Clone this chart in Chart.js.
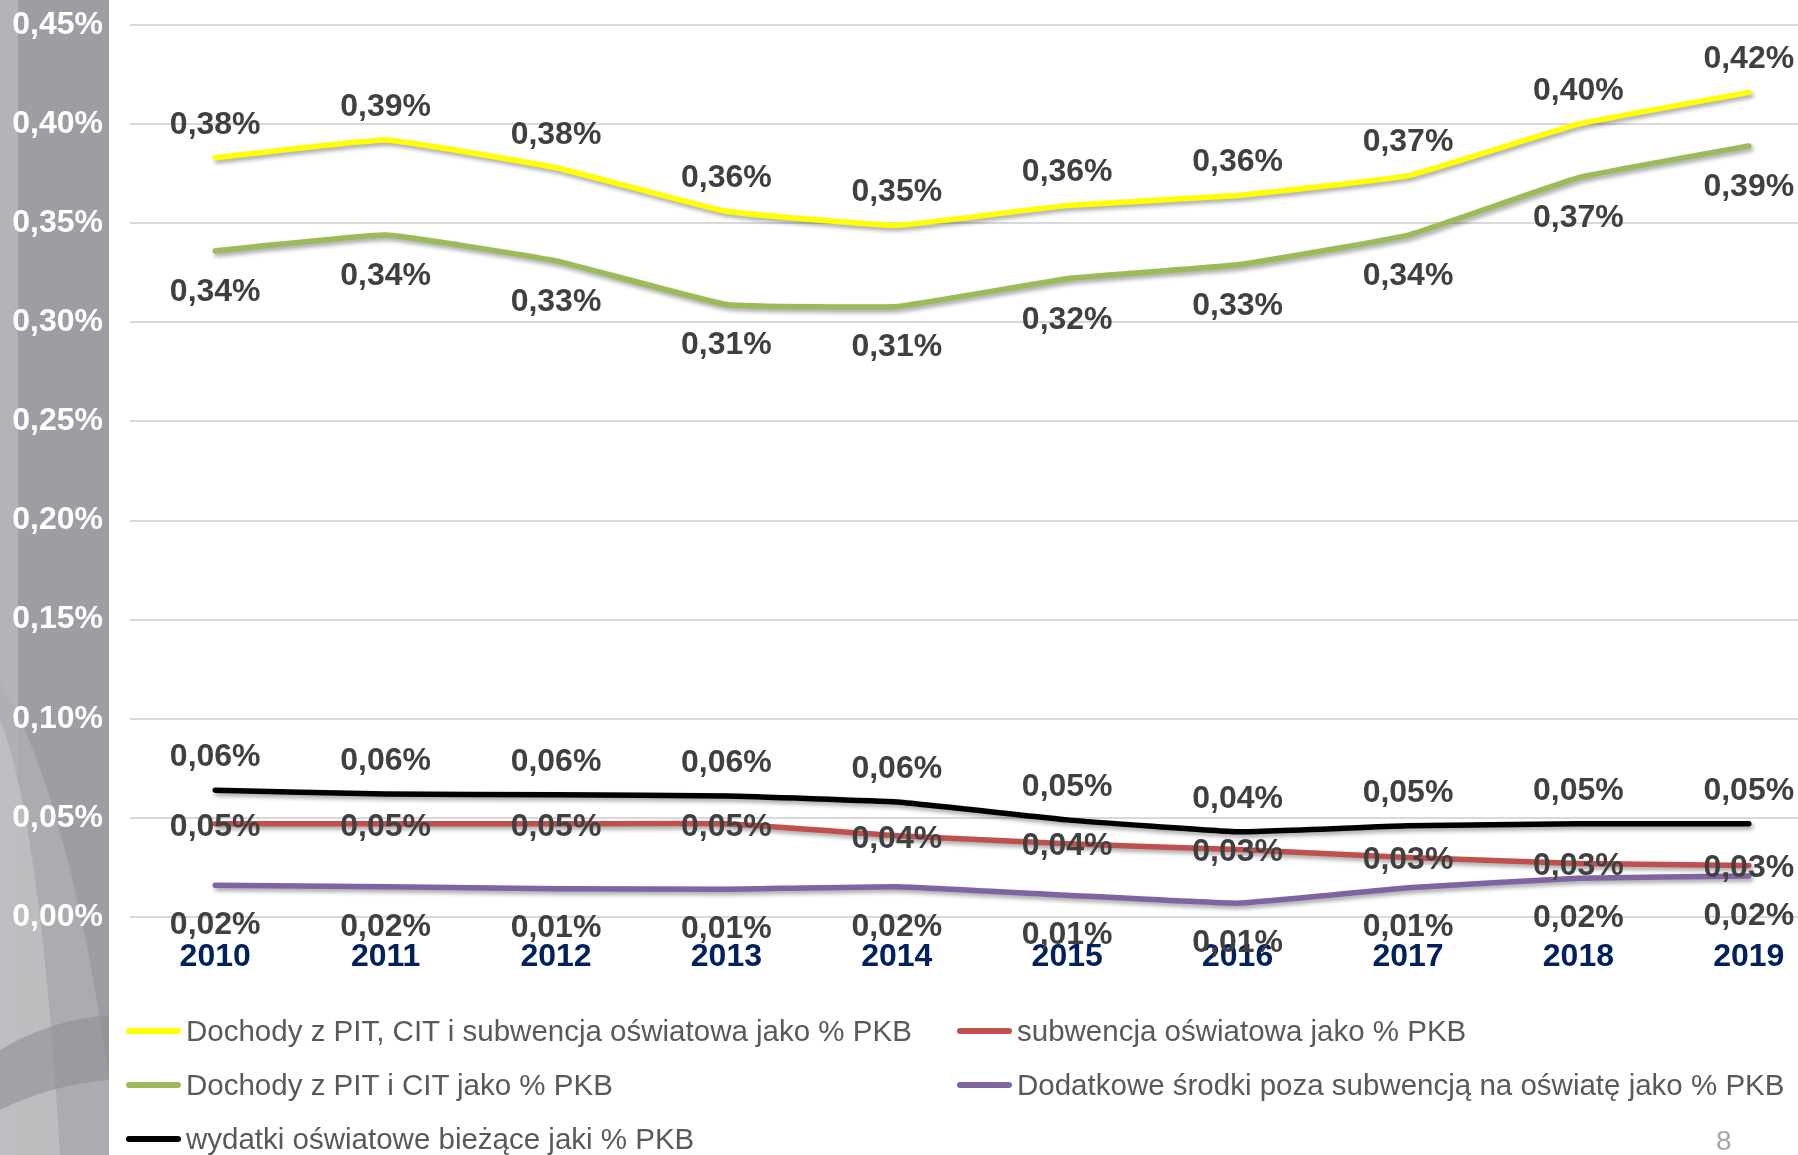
<!DOCTYPE html>
<html>
<head>
<meta charset="utf-8">
<script src="https://cdn.jsdelivr.net/npm/chart.js@4"></script>
<style>
  html, body { margin: 0; padding: 0; width: 1798px; height: 1155px; overflow: hidden; background: #fff; font-family: "Liberation Sans", Arial, sans-serif; }
  #panel { position: absolute; left: 0; top: 0; width: 109px; height: 1155px; }
  #wrap { position: absolute; left: 0; top: 0; width: 1834px; height: 1000px; }
  #legend { position: absolute; left: 0; top: 0; width: 1798px; height: 1155px; pointer-events: none; }
  .item { position: absolute; display: flex; align-items: center; font-size: 29.5px; color: #595959; white-space: nowrap; transform: translateY(-50%); }
  .swatch { width: 55px; height: 6px; border-radius: 3px; margin-right: 5px; }
  #page { position: absolute; left: 1716px; top: 1125px; font-size: 28px; color: #a6a6a6; }
</style>
</head>
<body>
<svg id="panel" width="109" height="1155">
  <rect x="0" y="0" width="109" height="1155" fill="#9d9ea3"/>
  <rect x="0" y="0" width="18" height="1155" fill="#b3b4b8"/>
  <path d="M0,680 Q70,800 109,1080 L109,1155 L0,1155 Z" fill="#aeafb3" opacity="0.8"/>
  <path d="M0,720 Q40,820 60,1155 L0,1155 Z" fill="#c4c5c8" opacity="0.7"/>
  <path d="M0,1050 Q50,1020 109,1015 L109,1080 Q50,1085 0,1110 Z" fill="#8e8f94" opacity="0.6"/>
</svg>
<div id="wrap"><canvas id="chart" width="1834" height="1000"></canvas></div>
<div id="legend"></div>
<div id="page">8</div>
<script>
// DATA
const years = ["2010", "2011", "2012", "2013", "2014", "2015", "2016", "2017", "2018", "2019"];
const pitCitSubw = [0.383, 0.392, 0.378, 0.356, 0.349, 0.359, 0.364, 0.374, 0.400, 0.416];
const subwencja = [0.047, 0.047, 0.047, 0.047, 0.041, 0.037, 0.034, 0.030, 0.027, 0.026];
const pitCit = [0.336, 0.344, 0.331, 0.309, 0.308, 0.322, 0.329, 0.344, 0.373, 0.389];
const dodatkowe = [0.016, 0.0152, 0.0143, 0.014, 0.0153, 0.011, 0.007, 0.0148, 0.0195, 0.0207];
const wydatki = [0.064, 0.062, 0.0617, 0.061, 0.058, 0.049, 0.043, 0.046, 0.047, 0.047];
const yTicksMax = 0.45;

const seriesNames = [
  "Dochody z PIT, CIT i subwencja oświatowa jako % PKB",
  "subwencja oświatowa jako % PKB",
  "Dochody z PIT i CIT jako % PKB",
  "Dodatkowe środki poza subwencją na oświatę jako % PKB",
  "wydatki oświatowe bieżące jaki % PKB",
];
const seriesColors = ["#ffff00", "#c0504d", "#9bbb59", "#8064a2", "#000000"];
// where the value label sits relative to the point (px, + is down)
const labelOffsets = [-33, 3, 41, 40, -33];

const fmt = (v) => v.toFixed(2).replace(".", ",") + "%";
const FONT = "'Liberation Sans', Arial, sans-serif";

// drop shadow under each line
const shadowPlugin = {
  id: "shadow",
  beforeDatasetDraw(chart) {
    const c = chart.ctx;
    c.save();
    c.shadowColor = "rgba(0,0,0,0.35)";
    c.shadowBlur = 4;
    c.shadowOffsetX = 2;
    c.shadowOffsetY = 3;
  },
  afterDatasetDraw(chart) {
    chart.ctx.restore();
  },
};

// value labels
const labelPlugin = {
  id: "valueLabels",
  afterDatasetsDraw(chart) {
    const c = chart.ctx;
    c.save();
    c.font = "bold 32px " + FONT;
    c.fillStyle = "#404040";
    c.textAlign = "center";
    c.textBaseline = "middle";
    chart.data.datasets.forEach((ds, i) => {
      chart.getDatasetMeta(i).data.forEach((pt, j) => {
        c.fillText(fmt(ds.data[j]), pt.x, pt.y + labelOffsets[i]);
      });
    });
    c.restore();
  },
};

const allData = [pitCitSubw, subwencja, pitCit, dodatkowe, wydatki];

new Chart(document.getElementById("chart"), {
  type: "line",
  data: {
    labels: years,
    datasets: allData.map((d, i) => ({
      label: seriesNames[i],
      data: d,
      borderColor: seriesColors[i],
      backgroundColor: seriesColors[i],
      borderWidth: 5.5,
      borderCapStyle: "round",
      borderJoinStyle: "round",
      pointRadius: 0,
      tension: 0.1,
    })),
  },
  options: {
    responsive: false,
    animation: false,
    layout: { padding: { top: 25, left: 0, right: 0, bottom: 0 } },
    plugins: { legend: { display: false }, tooltip: { enabled: false } },
    scales: {
      x: {
        z: 1,
        offset: true,
        grid: { display: false, drawTicks: false },
        border: { display: false },
        ticks: {
          color: "#002060",
          padding: 21,
          font: { family: FONT, size: 32, weight: "bold" },
        },
        afterFit(scale) {
          scale.height = 83;
          scale.paddingLeft = 0;
          scale.paddingRight = 0;
        },
      },
      y: {
        min: 0,
        max: yTicksMax,
        grid: { color: "#d9d9d9", lineWidth: 2, drawTicks: false },
        border: { display: false },
        ticks: {
          stepSize: 0.05,
          color: "#ffffff",
          padding: 27,
          font: { family: FONT, size: 32, weight: "bold" },
          callback: (v) => fmt(v),
        },
        afterFit(scale) {
          scale.width = 130;
          scale.paddingTop = 0;
          scale.paddingBottom = 0;
        },
      },
    },
  },
  plugins: [shadowPlugin, labelPlugin],
});

// LEGEND (two columns, row-major like the original)
const legendPos = [
  [126, 1031], [957, 1031],
  [126, 1085], [957, 1085],
  [126, 1139],
];
const legendEl = document.getElementById("legend");
seriesNames.forEach((name, i) => {
  const div = document.createElement("div");
  div.className = "item";
  div.style.left = legendPos[i][0] + "px";
  div.style.top = legendPos[i][1] + "px";
  div.innerHTML = `<span class="swatch" style="background:${seriesColors[i]}"></span><span>${name}</span>`;
  legendEl.appendChild(div);
});
</script>
</body>
</html>
